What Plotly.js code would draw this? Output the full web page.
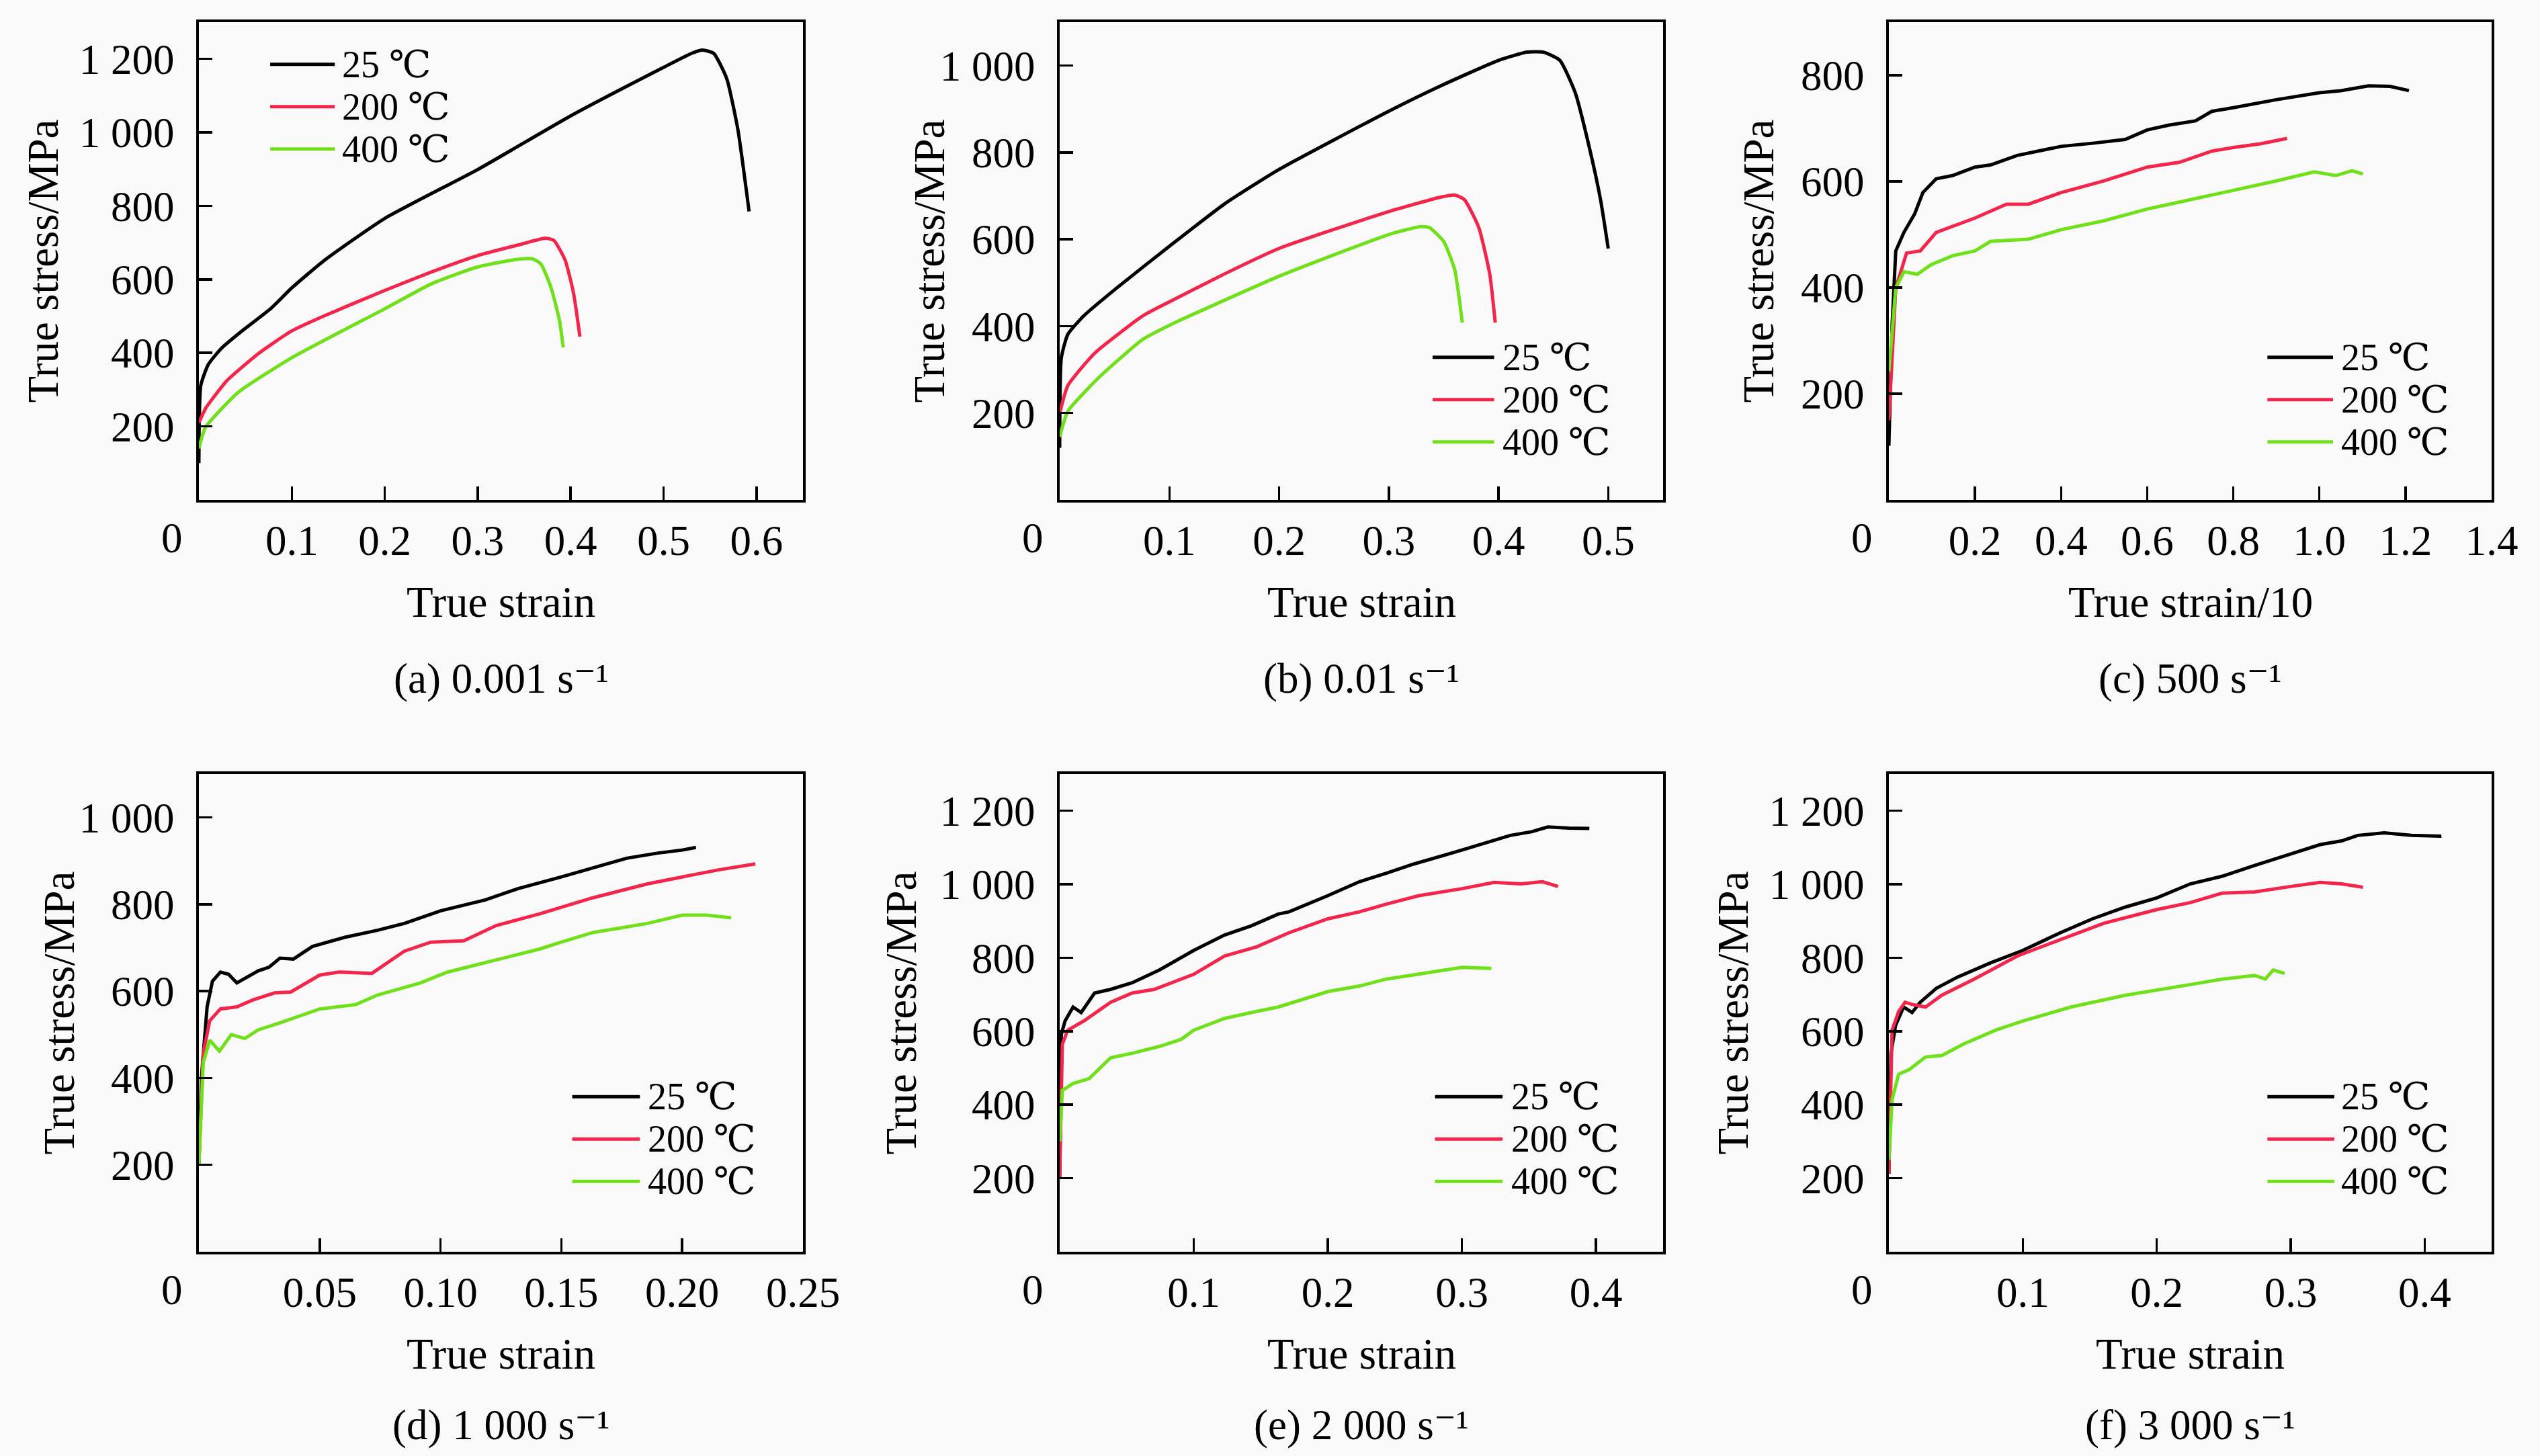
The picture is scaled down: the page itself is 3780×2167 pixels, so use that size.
<!DOCTYPE html>
<html>
<head>
<meta charset="utf-8">
<script src="https://cdn.plot.ly/plotly-3.0.1.min.js"></script>
<style>
  html, body { margin: 0; padding: 0; background: #f9f9f9; }
  #graphDiv { width: 3780px; height: 2167px; }
</style>
</head>
<body>
<div id="graphDiv"></div>
<script>
// legend labels and colours
const temps = ['25 \u2103', '200 \u2103', '400 \u2103'];
const colors = ['#000000', '#f2264b', '#6fe01a'];

// (a) 0.001 s-1
const aStrain25 = [0, 0.002, 0.01, 0.024, 0.048, 0.077, 0.1, 0.135, 0.2, 0.3, 0.4, 0.5, 0.53, 0.542, 0.554, 0.568, 0.58, 0.592];
const aStress25 = [100, 311, 368, 412, 463, 520, 577, 652, 766, 899, 1045, 1177, 1215, 1224, 1215, 1146, 1007, 785];
const aStrain200 = [0, 0.007, 0.03, 0.065, 0.1, 0.135, 0.2, 0.251, 0.3, 0.344, 0.373, 0.382, 0.394, 0.403, 0.41];
const aStress200 = [210, 248, 324, 400, 460, 501, 570, 621, 665, 694, 712, 706, 653, 564, 444];
const aStrain400 = [0, 0.007, 0.042, 0.1, 0.2, 0.251, 0.3, 0.344, 0.359, 0.368, 0.379, 0.388, 0.392];
const aStress400 = [140, 197, 292, 387, 520, 589, 634, 655, 656, 642, 577, 488, 415];

// (b) 0.01 s-1
const bStrain25 = [0, 0.0015, 0.0074, 0.022, 0.052, 0.1, 0.15, 0.2, 0.3, 0.347, 0.4, 0.426, 0.441, 0.456, 0.47, 0.483, 0.493, 0.5];
const bStress25 = [120, 327, 381, 424, 488, 584, 681, 761, 895, 953, 1012, 1031, 1031, 1012, 937, 809, 691, 579];
const bStrain200 = [0, 0.0074, 0.032, 0.076, 0.1, 0.15, 0.2, 0.3, 0.347, 0.36, 0.369, 0.382, 0.392, 0.397];
const bStress200 = [199, 263, 338, 424, 456, 520, 579, 664, 697, 702, 691, 627, 520, 408];
const bStrain400 = [0, 0.0074, 0.037, 0.076, 0.1, 0.2, 0.3, 0.328, 0.337, 0.35, 0.36, 0.367];
const bStress400 = [145, 204, 285, 370, 402, 515, 611, 629, 627, 595, 531, 408];

// (c) 500 s-1, strain/10
const cStrain25 = [0, 0.0075, 0.016, 0.035, 0.06, 0.079, 0.11, 0.148, 0.2, 0.236, 0.298, 0.4, 0.474, 0.549, 0.6, 0.65, 0.712, 0.75, 0.8, 0.9, 1.0, 1.05, 1.114, 1.164, 1.208];
const cStress25 = [102, 329, 469, 504, 539, 579, 605, 611, 627, 631, 649, 666, 672, 679, 697, 706, 714, 732, 739, 754, 767, 771, 780, 779, 771];
const cStrain200 = [0, 0.016, 0.041, 0.073, 0.11, 0.148, 0.2, 0.273, 0.324, 0.4, 0.5, 0.6, 0.675, 0.75, 0.8, 0.863, 0.925];
const cStress200 = [150, 399, 465, 469, 504, 515, 531, 557, 557, 579, 601, 627, 636, 657, 664, 671, 681];
const cStrain400 = [0, 0.016, 0.035, 0.066, 0.098, 0.148, 0.2, 0.236, 0.324, 0.4, 0.5, 0.6, 0.675, 0.75, 0.8, 0.9, 0.988, 1.038, 1.076, 1.101];
const cStress400 = [242, 399, 430, 425, 443, 460, 469, 487, 491, 509, 526, 548, 561, 574, 583, 601, 618, 611, 620, 614];

// (d) 1 000 s-1
const dStrain25 = [0, 0.0011, 0.0034, 0.0056, 0.0089, 0.0123, 0.0157, 0.0201, 0.0246, 0.029, 0.0335, 0.0391, 0.047, 0.0604, 0.0738, 0.085, 0.1, 0.1185, 0.132, 0.15, 0.163, 0.177, 0.19, 0.2, 0.2057];
const dStress25 = [200, 404, 564, 623, 644, 639, 619, 633, 647, 655, 676, 674, 703, 724, 740, 756, 785, 810, 836, 863, 884, 906, 918, 925, 931];
const dStrain200 = [0, 0.0018, 0.0045, 0.0089, 0.0157, 0.0224, 0.0313, 0.038, 0.05, 0.058, 0.0716, 0.085, 0.096, 0.1096, 0.123, 0.141, 0.163, 0.1856, 0.2, 0.2147, 0.2303];
const dStress200 = [200, 457, 532, 559, 564, 580, 596, 598, 637, 644, 641, 692, 713, 716, 751, 778, 815, 847, 863, 879, 893];
const dStrain400 = [0, 0.0018, 0.0045, 0.0085, 0.0134, 0.019, 0.0246, 0.0335, 0.05, 0.0648, 0.0738, 0.0917, 0.1029, 0.1185, 0.141, 0.15, 0.163, 0.1856, 0.2, 0.21, 0.2203];
const dStress400 = [200, 436, 487, 462, 500, 491, 511, 527, 559, 569, 591, 619, 644, 665, 697, 713, 735, 756, 775, 775, 769];

// (e) 2 000 s-1
const eStrain25 = [0, 0.0012, 0.004, 0.01, 0.016, 0.026, 0.038, 0.054, 0.0745, 0.1, 0.123, 0.143, 0.163, 0.171, 0.2, 0.2235, 0.2436, 0.264, 0.3, 0.324, 0.336, 0.352, 0.364, 0.38, 0.395];
const eStress25 = [200, 591, 628, 666, 651, 704, 714, 732, 767, 820, 862, 887, 919, 925, 969, 1007, 1030, 1055, 1093, 1121, 1133, 1143, 1156, 1153, 1152];
const eStrain200 = [0, 0.002, 0.006, 0.018, 0.038, 0.054, 0.0705, 0.1, 0.123, 0.147, 0.171, 0.2, 0.2235, 0.2436, 0.268, 0.3, 0.324, 0.344, 0.36, 0.3717];
const eStress200 = [200, 565, 603, 628, 679, 704, 714, 755, 805, 830, 868, 906, 925, 946, 969, 988, 1005, 1001, 1007, 994];
const eStrain400 = [0, 0.002, 0.01, 0.022, 0.038, 0.054, 0.0745, 0.0906, 0.1, 0.123, 0.147, 0.163, 0.2, 0.2235, 0.2436, 0.268, 0.3, 0.322];
const eStress400 = [300, 439, 458, 471, 528, 540, 559, 578, 603, 635, 654, 666, 708, 723, 742, 755, 774, 771];

// (f) 3 000 s-1
const fStrain25 = [0, 0.0016, 0.005, 0.011, 0.0173, 0.0234, 0.0355, 0.0516, 0.0758, 0.1, 0.128, 0.152, 0.1766, 0.2, 0.225, 0.249, 0.273, 0.3, 0.322, 0.338, 0.35, 0.37, 0.39, 0.4125];
const fStress25 = [212, 540, 616, 666, 651, 679, 717, 748, 786, 820, 868, 906, 938, 963, 1001, 1022, 1051, 1083, 1108, 1118, 1133, 1140, 1133, 1131];
const fStrain200 = [0, 0.0024, 0.0073, 0.0121, 0.0173, 0.0274, 0.0395, 0.0637, 0.096, 0.128, 0.1605, 0.2, 0.225, 0.249, 0.273, 0.3, 0.322, 0.338, 0.354];
const fStress200 = [212, 603, 654, 679, 673, 666, 698, 742, 805, 849, 894, 931, 950, 976, 979, 994, 1005, 1001, 992];
const fStrain400 = [0, 0.0024, 0.0073, 0.0153, 0.0274, 0.0395, 0.0556, 0.0798, 0.1, 0.136, 0.1766, 0.2, 0.225, 0.249, 0.273, 0.281, 0.287, 0.2955];
const fStress400 = [250, 414, 483, 496, 530, 534, 565, 603, 628, 666, 698, 713, 727, 742, 752, 742, 767, 757];

// tick values and labels
const aXTicks = [0.1, 0.2, 0.3, 0.4, 0.5, 0.6];
const bXTicks = [0.1, 0.2, 0.3, 0.4, 0.5];
const cXTicks = [0.2, 0.4, 0.6, 0.8, 1.0, 1.2, 1.4];
const cXLabels = ['0.2', '0.4', '0.6', '0.8', '1.0', '1.2', '1.4'];
const dXTicks = [0.05, 0.10, 0.15, 0.20, 0.25];
const dXLabels = ['0.05', '0.10', '0.15', '0.20', '0.25'];
const efXTicks = [0.1, 0.2, 0.3, 0.4];
const yTicks1200 = [200, 400, 600, 800, 1000, 1200];
const yLabels1200 = ['200', '400', '600', '800', '1 000', '1 200'];
const yTicks1000 = [200, 400, 600, 800, 1000];
const yLabels1000 = ['200', '400', '600', '800', '1 000'];
const yTicks800 = [200, 400, 600, 800];

// panel captions (strain rates)
const captions = ['(a) 0.001 s\u207b\u00b9', '(b) 0.01 s\u207b\u00b9', '(c) 500 s\u207b\u00b9',
                  '(d) 1 000 s\u207b\u00b9', '(e) 2 000 s\u207b\u00b9', '(f) 3 000 s\u207b\u00b9'];

const serif = 'Liberation Serif, Times New Roman, DejaVu Serif, Noto Sans CJK SC, serif';

const panels = [
  {x: [aStrain25, aStrain200, aStrain400], y: [aStress25, aStress200, aStress400],
   xr: [0, 0.65], yr: [0, 1300], xt: aXTicks, xl: aXTicks.map(String), yt: yTicks1200, yl: yLabels1200,
   xtitle: 'True strain', smooth: true,
   col: 0, row: 0, leg: [0.118, 0.225, 0.236], legY: [0.9116, 0.823, 0.7344], ytOff: 233},
  {x: [bStrain25, bStrain200, bStrain400], y: [bStress25, bStress200, bStress400],
   xr: [0, 0.55], yr: [0, 1100], xt: bXTicks, xl: bXTicks.map(String), yt: yTicks1000, yl: yLabels1000,
   xtitle: 'True strain', smooth: true,
   col: 1, row: 0, leg: [0.618, 0.720, 0.733], legY: [0.2986, 0.210, 0.1214], ytOff: 195},
  {x: [cStrain25, cStrain200, cStrain400], y: [cStress25, cStress200, cStress400],
   xr: [0, 1.4], yr: [0, 900], xt: cXTicks, xl: cXLabels, yt: yTicks800, yl: yTicks800.map(String),
   xtitle: 'True strain/10', smooth: false,
   col: 2, row: 0, leg: [0.628, 0.737, 0.749], legY: [0.2986, 0.210, 0.1214], ytOff: 195},
  {x: [dStrain25, dStrain200, dStrain400], y: [dStress25, dStress200, dStress400],
   xr: [0, 0.25], yr: [0, 1100], xt: dXTicks, xl: dXLabels, yt: yTicks1000, yl: yLabels1000,
   xtitle: 'True strain', smooth: false,
   col: 0, row: 1, leg: [0.618, 0.730, 0.742], legY: [0.3246, 0.236, 0.1474], ytOff: 209},
  {x: [eStrain25, eStrain200, eStrain400], y: [eStress25, eStress200, eStress400],
   xr: [0, 0.45], yr: [0, 1300], xt: efXTicks, xl: efXTicks.map(String), yt: yTicks1200, yl: yLabels1200,
   xtitle: 'True strain', smooth: false,
   col: 1, row: 1, leg: [0.622, 0.734, 0.747], legY: [0.3246, 0.236, 0.1474], ytOff: 237},
  {x: [fStrain25, fStrain200, fStrain400], y: [fStress25, fStress200, fStress400],
   xr: [0, 0.45], yr: [0, 1300], xt: efXTicks, xl: efXTicks.map(String), yt: yTicks1200, yl: yLabels1200,
   xtitle: 'True strain', smooth: false,
   col: 2, row: 1, leg: [0.628, 0.739, 0.749], legY: [0.3246, 0.236, 0.1474], ytOff: 233}
];

// subplot boxes, in pixels of the 3780 x 2167 page
const W = 3780, H = 2167;
const colPx = [[296, 1195], [1577, 2475], [2811, 3708]];
const rowPx = [[33, 744], [1152, 1863]];
const capShift = [-266, -258];

const data = [];
const shapes = [];
const annotations = [];
const layout = {
  width: W, height: H,
  margin: {l: 0, r: 0, t: 0, b: 0},
  paper_bgcolor: '#f9f9f9',
  plot_bgcolor: '#f9f9f9',
  showlegend: false,
  font: {family: serif, color: '#000'}
};

panels.forEach(function(p, k){
  const n = k === 0 ? '' : String(k + 1);
  const xa = 'x' + n, ya = 'y' + n;

  const axis = {
    showline: true, linecolor: '#000', linewidth: 4, mirror: true,
    ticks: 'inside', ticklen: 20, tickwidth: 3.5, tickcolor: '#000',
    showgrid: false, zeroline: false, fixedrange: true,
    tickfont: {family: serif, size: 63, color: '#000'},
    tickmode: 'array'
  };

  layout['xaxis' + n] = Object.assign({}, axis, {
    domain: [colPx[p.col][0] / W, colPx[p.col][1] / W],
    range: p.xr, tickvals: p.xt, ticktext: p.xl,
    anchor: ya, ticklabelstandoff: 2
  });
  layout['yaxis' + n] = Object.assign({}, axis, {
    domain: [1 - rowPx[p.row][1] / H, 1 - rowPx[p.row][0] / H],
    range: p.yr, tickvals: p.yt, ticktext: p.yl,
    anchor: xa, ticklabelstandoff: 20
  });

  for (let i = 0; i < 3; i++) {
    data.push({
      x: p.x[i], y: p.y[i],
      xaxis: xa, yaxis: ya,
      mode: 'lines', type: 'scatter',
      name: temps[i],
      line: p.smooth ? {color: colors[i], width: 5, shape: 'spline', smoothing: 0.5}
                     : {color: colors[i], width: 5},
      hoverinfo: 'skip'
    });

    // hand-made legend: sample line + label
    shapes.push({
      type: 'line', xref: xa + ' domain', yref: ya + ' domain',
      x0: p.leg[0], x1: p.leg[1], y0: p.legY[i], y1: p.legY[i],
      line: {color: colors[i], width: 5}
    });
    annotations.push({
      text: temps[i], showarrow: false,
      xref: xa + ' domain', yref: ya + ' domain',
      x: p.leg[2], y: p.legY[i], xanchor: 'left', yanchor: 'middle',
      borderpad: 0,
      font: {family: serif, size: 56, color: '#000'}
    });
  }

  // shared origin label "0"
  annotations.push({
    text: '0', showarrow: false,
    xref: xa, yref: ya + ' domain', x: 0, y: 0,
    xanchor: 'center', yanchor: 'middle', xshift: -40, yshift: -57,
    font: {family: serif, size: 63, color: '#000'}
  });

  // axis titles
  annotations.push({
    text: p.xtitle, showarrow: false,
    xref: xa + ' domain', yref: ya + ' domain', x: 0.5, y: 0,
    xanchor: 'center', yanchor: 'middle', yshift: -152,
    font: {family: serif, size: 65, color: '#000'}
  });
  annotations.push({
    text: 'True stress/MPa', showarrow: false, textangle: -90,
    xref: xa + ' domain', yref: ya + ' domain', x: 0, y: 0.5,
    xanchor: 'center', yanchor: 'middle', xshift: -p.ytOff,
    font: {family: serif, size: 65, color: '#000'}
  });

  // caption under each panel
  annotations.push({
    text: captions[k], showarrow: false,
    xref: xa + ' domain', yref: ya + ' domain', x: 0.5, y: 0,
    xanchor: 'center', yanchor: 'middle', yshift: capShift[p.row],
    font: {family: serif, size: 63, color: '#000'}
  });
});

layout.shapes = shapes;
layout.annotations = annotations;

Plotly.newPlot('graphDiv', data, layout, {staticPlot: true});
</script>
</body>
</html>
